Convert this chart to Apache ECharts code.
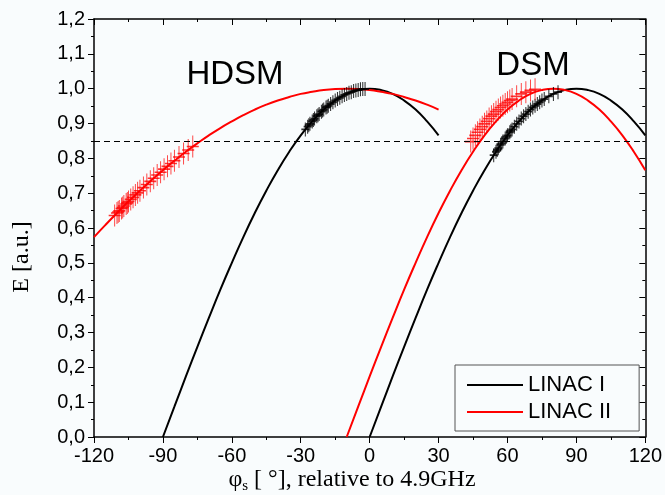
<!DOCTYPE html>
<html>
<head>
    <meta charset="UTF-8">
    <title>LINAC phase curves</title>
    <script type="text/javascript" src="https://cdn.jsdelivr.net/npm/echarts@6/dist/echarts.min.js"></script>
    <style>
        html, body { margin: 0; padding: 0; background: #f9fcfd; }
        #chart { width: 665px; height: 495px; }
    </style>
</head>
<body>
<div id="chart"></div>
<script>
    // curves: [phase in deg, E]
    var linac1Hdsm = [[-90, 0], [-85, 0.087], [-80, 0.174], [-75, 0.259], [-70, 0.342], [-65, 0.423], [-60, 0.5],
        [-55, 0.574], [-50, 0.643], [-45, 0.707], [-40, 0.766], [-35, 0.819], [-30, 0.866], [-25, 0.906],
        [-20, 0.94], [-15, 0.966], [-10, 0.985], [-5, 0.996], [0, 1], [5, 0.996], [10, 0.985], [15, 0.966],
        [20, 0.94], [25, 0.906], [30, 0.866]];
    var linac1Dsm = [[0, 0], [5, 0.087], [10, 0.174], [15, 0.259], [20, 0.342], [25, 0.423], [30, 0.5],
        [35, 0.574], [40, 0.643], [45, 0.707], [50, 0.766], [55, 0.819], [60, 0.866], [65, 0.906], [70, 0.94],
        [75, 0.966], [80, 0.985], [85, 0.996], [90, 1], [95, 0.996], [100, 0.985], [105, 0.966], [110, 0.94],
        [115, 0.906], [120, 0.866]];
    var linac2Hdsm = [[-120, 0.574], [-115, 0.609], [-110, 0.643], [-105, 0.676], [-100, 0.707], [-95, 0.737],
        [-90, 0.766], [-85, 0.793], [-80, 0.819], [-75, 0.843], [-70, 0.866], [-65, 0.887], [-60, 0.906],
        [-55, 0.924], [-50, 0.94], [-45, 0.954], [-40, 0.966], [-35, 0.976], [-30, 0.985], [-25, 0.991],
        [-20, 0.996], [-15, 0.999], [-10, 1], [-5, 0.999], [0, 0.996], [5, 0.991], [10, 0.985], [15, 0.976],
        [20, 0.966], [25, 0.954], [30, 0.94]];
    var linac2Dsm = [[-10, 0], [-5, 0.087], [0, 0.174], [5, 0.259], [10, 0.342], [15, 0.423], [20, 0.5],
        [25, 0.574], [30, 0.643], [35, 0.707], [40, 0.766], [45, 0.819], [50, 0.866], [55, 0.906], [60, 0.94],
        [65, 0.966], [70, 0.985], [75, 0.996], [80, 1], [85, 0.996], [90, 0.985], [95, 0.966], [100, 0.94],
        [105, 0.906], [110, 0.866], [115, 0.819], [120, 0.766]];

    // bunch particles (the + markers)
    var bunch1Hdsm = [[-28, 0.883], [-27, 0.891], [-26.5, 0.895], [-26, 0.899], [-25, 0.906], [-24.5, 0.91],
        [-24, 0.914], [-23, 0.921], [-22.5, 0.924], [-22, 0.927], [-21, 0.934], [-20.5, 0.937], [-20, 0.94],
        [-19, 0.946], [-18.5, 0.948], [-18, 0.951], [-17, 0.956], [-16, 0.961], [-15, 0.966], [-14, 0.97],
        [-13, 0.974], [-12, 0.978], [-11, 0.982], [-10, 0.985], [-9, 0.988], [-8, 0.99], [-7, 0.993],
        [-6, 0.995], [-5, 0.996], [-4, 0.998], [-3, 0.999], [-2, 0.999]];
    var bunch1Dsm = [[54, 0.809], [55, 0.819], [55.5, 0.824], [56, 0.829], [57, 0.839], [57.5, 0.843],
        [58, 0.848], [59, 0.857], [59.5, 0.862], [60, 0.866], [61, 0.875], [61.5, 0.879], [62, 0.883],
        [63, 0.891], [64, 0.899], [65, 0.906], [66, 0.914], [67, 0.921], [68, 0.927], [69, 0.934], [70, 0.94],
        [71, 0.946], [72, 0.951], [73, 0.956], [74, 0.961], [75, 0.966], [76, 0.97], [78, 0.978], [80, 0.985],
        [82, 0.99]];
    var bunch2Hdsm = [[-111, 0.636], [-110, 0.643], [-109.5, 0.646], [-109, 0.649], [-108, 0.656],
        [-107.5, 0.659], [-107, 0.663], [-106, 0.669], [-105.5, 0.672], [-105, 0.676], [-104, 0.682],
        [-103, 0.688], [-102, 0.695], [-101, 0.701], [-100, 0.707], [-98.5, 0.716], [-97, 0.725],
        [-95.5, 0.734], [-94, 0.743], [-92.5, 0.752], [-91, 0.76], [-89.5, 0.769], [-88, 0.777],
        [-86.5, 0.785], [-85, 0.793], [-83, 0.804], [-81, 0.814], [-79, 0.824], [-77, 0.834]];
    var bunch2Dsm = [[44, 0.848], [45, 0.857], [46, 0.866], [47, 0.875], [48, 0.883], [49, 0.891], [50, 0.899],
        [51, 0.906], [52, 0.914], [53, 0.921], [54, 0.927], [55, 0.934], [56, 0.94], [57, 0.946], [58, 0.951],
        [59, 0.956], [60, 0.961], [61, 0.966], [62, 0.97], [64, 0.978], [66, 0.985], [68, 0.99], [70, 0.995],
        [72, 0.998]];

    var threshold = 0.85;

    var plusPath = 'path://M0,0 L0,2 M-0.5,1 L0.5,1';
    var sans = 'Liberation Sans, Arial, sans-serif';
    var serif = 'Liberation Serif, Times New Roman, serif';

    function curve(name, color, data) {
        return {
            name: name,
            type: 'line',
            data: data,
            smooth: true,
            showSymbol: false,
            symbol: 'none',
            lineStyle: {color: color, width: 2},
            itemStyle: {color: color},
            z: 2
        };
    }

    function bunch(name, color, data, size, width) {
        return {
            name: name,
            type: 'scatter',
            data: data,
            symbol: plusPath,
            symbolSize: size,
            itemStyle: {color: 'none', borderColor: color, borderWidth: width},
            z: 3
        };
    }

    var myChart = echarts.init(document.getElementById('chart'));

    var hdsmDashed = curve('LINAC I', '#000', linac1Hdsm);
    hdsmDashed.markLine = {
        silent: true,
        symbol: ['none', 'none'],
        label: {show: false},
        lineStyle: {color: '#000', type: [6, 4], width: 1},
        data: [{yAxis: threshold}]
    };

    myChart.setOption({
        backgroundColor: '#f9fcfd',
        animation: false,
        grid: {left: 94, right: 19, top: 19, bottom: 58},
        legend: {
            data: ['LINAC I', 'LINAC II'],
            orient: 'vertical',
            left: 455,
            top: 365,
            padding: [9, 28, 8, 12],
            itemGap: 5,
            itemWidth: 56,
            itemHeight: 2,
            icon: 'rect',
            borderColor: '#555',
            borderWidth: 1,
            textStyle: {fontFamily: sans, fontSize: 22, color: '#000', lineHeight: 22}
        },
        xAxis: [{
            type: 'value',
            min: -120,
            max: 120,
            interval: 30,
            axisLine: {onZero: false, lineStyle: {color: '#000', width: 1.5}},
            axisTick: {inside: false, length: 6, lineStyle: {color: '#000'}},
            minorTick: {show: true, splitNumber: 2, length: 3, lineStyle: {color: '#000'}},
            splitLine: {show: false},
            axisLabel: {fontFamily: sans, fontSize: 20, color: '#000', margin: 9}
        }, {
            type: 'value',
            position: 'top',
            min: -120,
            max: 120,
            interval: 30,
            axisLine: {onZero: false, lineStyle: {color: '#000', width: 1.5}},
            axisTick: {inside: true, length: 6, lineStyle: {color: '#000'}},
            minorTick: {show: true, splitNumber: 2, length: 3, lineStyle: {color: '#000'}},
            splitLine: {show: false},
            axisLabel: {show: false}
        }],
        yAxis: [{
            type: 'value',
            min: 0,
            max: 1.2,
            interval: 0.1,
            axisLine: {show: true, onZero: false, lineStyle: {color: '#000', width: 1.5}},
            axisTick: {show: true, inside: false, length: 6, lineStyle: {color: '#000'}},
            minorTick: {show: true, splitNumber: 2, length: 3, lineStyle: {color: '#000'}},
            splitLine: {show: false},
            axisLabel: {
                fontFamily: sans, fontSize: 20, color: '#000', margin: 9,
                formatter: function (v) {
                    return v.toFixed(1).replace('.', ',');
                }
            }
        }, {
            type: 'value',
            position: 'right',
            min: 0,
            max: 1.2,
            interval: 0.1,
            axisLine: {show: true, onZero: false, lineStyle: {color: '#000', width: 1.5}},
            axisTick: {show: true, inside: true, length: 6, lineStyle: {color: '#000'}},
            minorTick: {show: true, splitNumber: 2, length: 3, lineStyle: {color: '#000'}},
            splitLine: {show: false},
            axisLabel: {show: false}
        }],
        graphic: [{
            type: 'text',
            x: 22,
            y: 257,
            rotation: Math.PI / 2,
            style: {
                text: 'E [a.u.]',
                font: '24px ' + serif,
                fill: '#000',
                align: 'center',
                verticalAlign: 'middle'
            }
        }, {
            type: 'text',
            x: 352,
            y: 480,
            style: {
                text: '{a|φ}{s|s}{a| [ °], relative to 4.9GHz}',
                align: 'center',
                verticalAlign: 'middle',
                rich: {
                    a: {fontFamily: serif, fontSize: 24, fill: '#000'},
                    s: {fontFamily: serif, fontSize: 15, fill: '#000', padding: [12, 0, 0, 0]}
                }
            }
        }, {
            type: 'text',
            x: 235,
            y: 75,
            style: {text: 'HDSM', font: '33px ' + sans, fill: '#000', align: 'center', verticalAlign: 'middle'}
        }, {
            type: 'text',
            x: 533,
            y: 66,
            style: {text: 'DSM', font: '33px ' + sans, fill: '#000', align: 'center', verticalAlign: 'middle'}
        }],
        series: [
            hdsmDashed,
            curve('LINAC I', '#000', linac1Dsm),
            curve('LINAC II', '#ff0000', linac2Hdsm),
            curve('LINAC II', '#ff0000', linac2Dsm),
            bunch('bunch I HDSM', '#000', bunch1Hdsm, [8, 14], 1.4),
            bunch('bunch I DSM', '#000', bunch1Dsm, [8, 14], 1.4),
            bunch('bunch II HDSM', '#ff0000', bunch2Hdsm, [12, 22], 1.2),
            bunch('bunch II DSM', '#ff0000', bunch2Dsm, [12, 22], 1.2)
        ]
    });
</script>
</body>
</html>
